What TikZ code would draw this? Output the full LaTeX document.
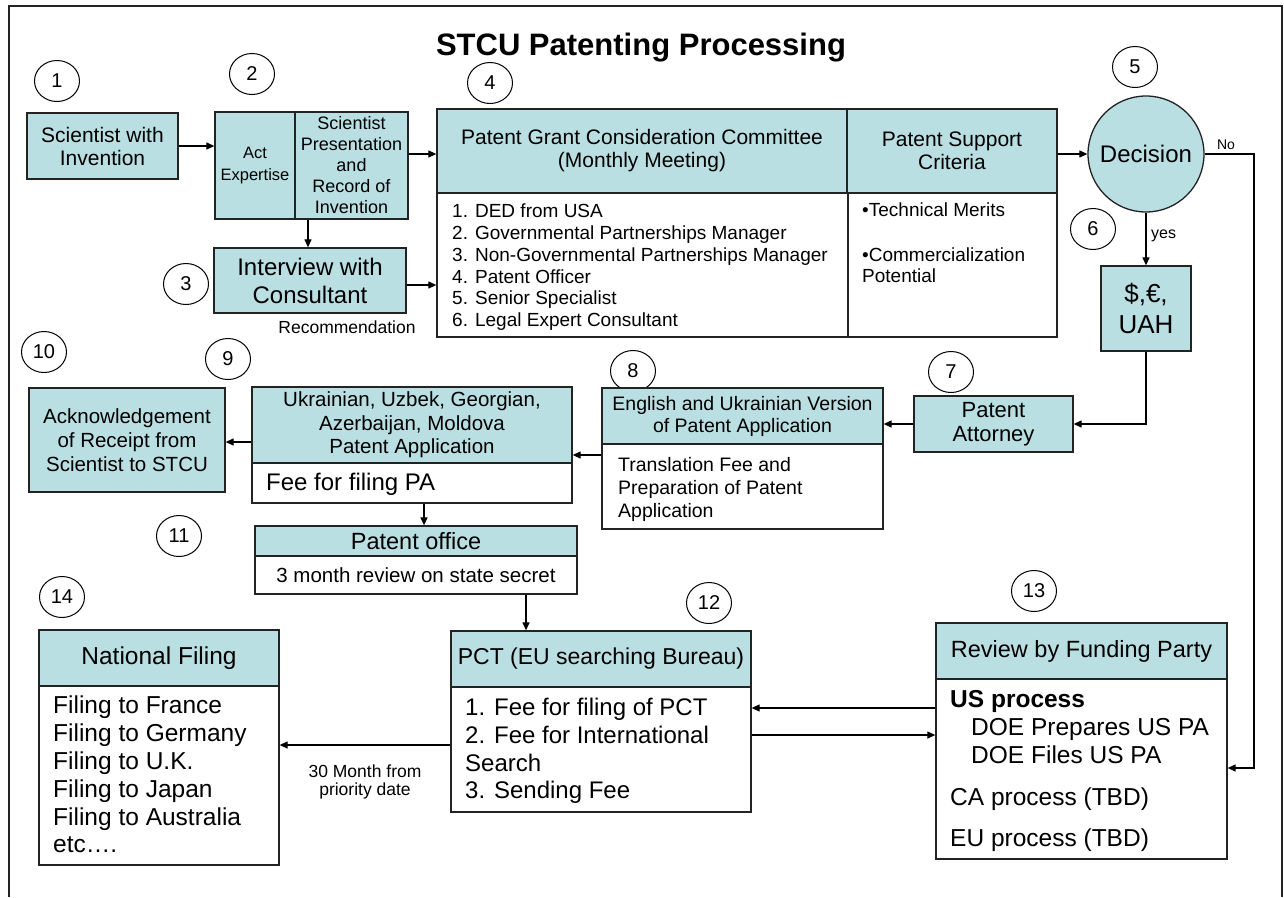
\documentclass[tikz,border=0pt]{standalone}
\usepackage{fontspec}
\setmainfont{Liberation Sans}
\usetikzlibrary{arrows.meta,shapes.geometric}
\definecolor{boxfill}{RGB}{185,223,227}
\definecolor{edge}{RGB}{35,35,35}
\newcommand\fsz[2]{\fontsize{#1}{#2}\selectfont}
\newcommand\bul{{\fsz{19}{19}•}}
\begin{document}
\begin{tikzpicture}[x=1pt,y=-1pt,
  box/.style={draw=edge,line width=1.3pt,fill=boxfill,rectangle,align=center,inner sep=0pt},
  wbox/.style={draw=edge,line width=1.3pt,fill=white,rectangle,inner sep=0pt},
  num/.style={draw=black,ellipse,line width=1pt,minimum width=45pt,minimum height=41pt,inner sep=0pt,font=\fsz{20}{20}},
  arr/.style={-{Triangle[length=8pt,width=7pt]},line width=1.2pt,draw=black},
  txt/.style={inner sep=0pt,align=left}]
\useasboundingbox (0,0) rectangle (1284,897);
\draw[line width=1.5pt,edge] (9,897) -- (9,6) -- (1282,6) -- (1282,897);

\node[anchor=base,font=\bfseries\fsz{31}{31}] (title) at (641,55) {STCU Patenting Processing};

% circled step numbers
\node[num] (c1) at (57,81) {1};
\node[num] (c2) at (252,74) {2};
\node[num] (c3) at (186,284) {3};
\node[num] (c4) at (490,83) {4};
\node[num] (c5) at (1135,67) {5};
\node[num] (c6) at (1093,229) {6};
\node[num] (c7) at (951,372) {7};
\node[num] (c8) at (633,371) {8};
\node[num] (c9) at (228,359) {9};
\node[num] (c10) at (44,352) {10};
\node[num] (c11) at (179,536) {11};
\node[num] (c12) at (709,603) {12};
\node[num] (c13) at (1034,591) {13};
\node[num] (c14) at (62,597) {14};

% step 1 and 2
\node[box,minimum width=151pt,minimum height=66pt,font=\fsz{21}{23}] (n1) at (102.5,146) {Scientist with\\Invention};
\node[box,minimum width=80pt,minimum height=107pt,font=\fsz{16.5}{22}] (n2a) at (255,165.5) {Act\\Expertise};
\node[box,minimum width=113pt,minimum height=107pt,font=\fsz{18}{21}] (n2b) at (351.5,165.5) {Scientist\\Presentation\\and\\Record of\\Invention};
\node[box,minimum width=192pt,minimum height=65pt,font=\fsz{24}{28}] (n3) at (310,280.5) {Interview with\\Consultant};
\node[txt,font=\fsz{17.5}{18}] (rec) at (347,327) {Recommendation};

% step 4
\node[wbox,minimum width=411pt,minimum height=144pt] (n4b) at (642.5,265) {};
\node[wbox,minimum width=209pt,minimum height=144pt] (n4sb) at (952.5,265) {};
\node[box,minimum width=410pt,minimum height=84pt,font=\fsz{21}{23}] (n4h) at (642,151) {Patent Grant Consideration Committee\\(Monthly Meeting)};
\node[box,minimum width=210pt,minimum height=84pt,font=\fsz{21}{23}] (n4sh) at (952,151) {Patent Support\\Criteria};
\node[txt,anchor=north west,font=\fsz{19}{21.7}] (n4list) at (452,204) {1. DED from USA\\2. Governmental Partnerships Manager\\3. Non-Governmental Partnerships Manager\\4. Patent Officer\\5. Senior Specialist\\6. Legal Expert Consultant};
\node[txt,anchor=north west,font=\fsz{19}{21}] (n4crit) at (862,203) {\bul Technical Merits\\[24pt]\bul Commercialization\\Potential};

% decision
\node[circle,draw=edge,line width=1.3pt,fill=boxfill,minimum size=116pt,inner sep=0pt,font=\fsz{24}{24}] (n5) at (1146,154) {Decision};
\node[txt,font=\fsz{14}{14}] (no) at (1226,145) {No};
\node[txt,anchor=west,font=\fsz{16}{16}] (yes) at (1151,236) {yes};
\node[box,minimum width=90pt,minimum height=85pt,font=\fsz{26}{31}] (n6) at (1146,308.5) {\$,€,\\UAH};

% steps 7-11
\node[box,minimum width=159pt,minimum height=56pt,font=\fsz{22}{24}] (n7) at (993.5,424) {Patent\\Attorney};
\node[wbox,minimum width=281pt,minimum height=85pt] (n8b) at (742.5,486.5) {};
\node[box,minimum width=281pt,minimum height=56pt,font=\fsz{19.5}{22}] (n8h) at (742.5,416) {English and Ukrainian Version\\of Patent Application};
\node[txt,anchor=north west,font=\fsz{19.5}{23.3}] (n8t) at (618,457) {Translation Fee and\\Preparation of Patent\\Application};

\node[wbox,minimum width=320pt,minimum height=40pt] (n9b) at (412,483) {};
\node[box,minimum width=320pt,minimum height=76pt,font=\fsz{20.5}{23.5}] (n9h) at (412,425) {Ukrainian, Uzbek, Georgian,\\Azerbaijan, Moldova\\Patent Application};
\node[txt,anchor=west,font=\fsz{24}{24}] (n9t) at (266,484) {Fee for filing PA};

\node[box,minimum width=196pt,minimum height=104pt,font=\fsz{20.5}{24}] (n10) at (127,440) {Acknowledgement\\of Receipt from\\Scientist to STCU};

\node[wbox,minimum width=322pt,minimum height=38pt,font=\fsz{20.5}{20.5}] (n11b) at (416,575) {3 month review on state secret};
\node[box,minimum width=322pt,minimum height=30pt,font=\fsz{23.5}{23.5}] (n11h) at (416,541) {Patent office};

% steps 12-14
\node[wbox,minimum width=300pt,minimum height=125pt] (n12b) at (601,749.5) {};
\node[box,minimum width=300pt,minimum height=56pt,font=\fsz{23}{23}] (n12h) at (601,659) {PCT (EU searching Bureau)};
\node[txt,anchor=north west,font=\fsz{24}{27.7}] (n12t) at (465,698) {1. Fee for filing of PCT\\2. Fee for International\\Search\\3. Sending Fee};

\node[wbox,minimum width=291pt,minimum height=180pt] (n13b) at (1081.5,769) {};
\node[box,minimum width=291pt,minimum height=56pt,font=\fsz{23.5}{23.5}] (n13h) at (1081.5,651) {Review by Funding Party};
\node[txt,anchor=north west,font=\fsz{24.5}{28}] (n13t) at (950,690) {\textbf{US process}\\\hspace*{21pt}DOE Prepares US PA\\\hspace*{21pt}DOE Files US PA\\[14pt]CA process (TBD)\\[13pt]EU process (TBD)};

\node[wbox,minimum width=240pt,minimum height=179pt] (n14b) at (159,775.5) {};
\node[box,minimum width=240pt,minimum height=56pt,font=\fsz{24.5}{24.5}] (n14h) at (159,658) {National Filing};
\node[txt,anchor=north west,font=\fsz{24.5}{27.8}] (n14t) at (53,696) {Filing to France\\Filing to Germany\\Filing to U.K.\\Filing to Japan\\Filing to Australia\\etc….};

\node[txt,align=center,font=\fsz{17.5}{18}] (lbl30) at (365,782) {30 Month from\\priority date};

% helper levels
\coordinate (L154) at (0,154);
\coordinate (L285) at (0,285);
\coordinate (L455) at (0,455);
\coordinate (L442) at (0,442);
\coordinate (L708) at (0,708);
\coordinate (L735) at (0,735);
\coordinate (L745) at (0,745);
\coordinate (L768) at (0,768);
\coordinate (X308) at (308,0);
\coordinate (X424) at (424,0);
\coordinate (X526) at (526,0);
\coordinate (X1254) at (1254,0);

% connectors
\draw[arr] (n1.east) -- (n1.east -| n2a.west);
\draw[arr] (n2b.east |- L154) -- (n4h.west |- L154);
\draw[arr] (n2b.south -| X308) -- (n3.north -| X308);
\draw[arr] (n3.east |- L285) -- (n4b.west |- L285);
\draw[arr] (n4sh.east |- n5.west) -- (n5.west);
\draw[arr] (n5.south) -- (n5.south |- n6.north);
\draw[arr] (n5.east) -- (n5.east -| X1254) -- (X1254 |- L768) -- (n13b.east |- L768);
\draw[arr] (n6.south) -- (n6.south |- n7.east) -- (n7.east);
\draw[arr] (n7.west) -- (n7.west -| n8h.east);
\draw[arr] (n8b.west |- L455) -- (n9h.east |- L455);
\draw[arr] (n9h.west |- L442) -- (n10.east |- L442);
\draw[arr] (n9b.south -| X424) -- (n11h.north -| X424);
\draw[arr] (n11b.south -| X526) -- (n12h.north -| X526);
\draw[arr] (n13b.west |- L708) -- (n12b.east |- L708);
\draw[arr] (n12b.east |- L735) -- (n13b.west |- L735);
\draw[arr] (n12b.west |- L745) -- (n14b.east |- L745);
\end{tikzpicture}
\end{document}
